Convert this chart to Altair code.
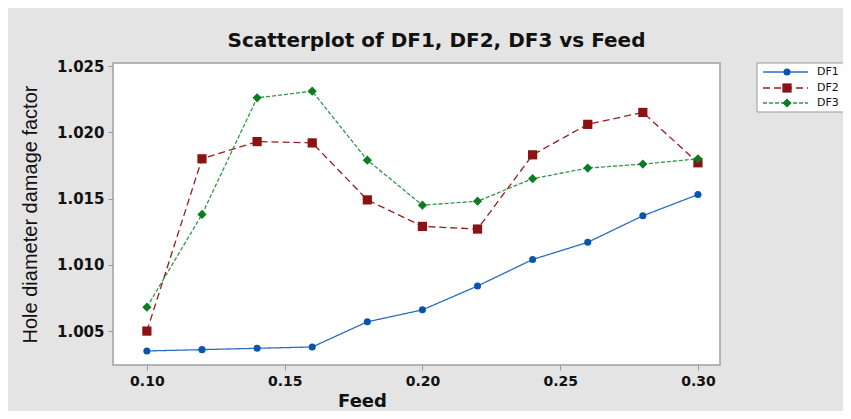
import altair as alt
import pandas as pd

feed = [0.10, 0.12, 0.14, 0.16, 0.18, 0.20, 0.22, 0.24, 0.26, 0.28, 0.30]
df1 = [1.0035, 1.0036, 1.0037, 1.0038, 1.0057, 1.0066, 1.0084, 1.0104, 1.0117, 1.0137, 1.0153]
df2 = [1.0050, 1.0180, 1.0193, 1.0192, 1.0149, 1.0129, 1.0127, 1.0183, 1.0206, 1.0215, 1.0177]
df3 = [1.0068, 1.0138, 1.0226, 1.0231, 1.0179, 1.0145, 1.0148, 1.0165, 1.0173, 1.0176, 1.0180]

series_names = ["DF1", "DF2", "DF3"]
line_colors = ["#2a6fc0", "#9b1c1c", "#2f9a45"]
point_colors = ["#0a55aa", "#8c1212", "#0a7d22"]
dashes = [[1, 0], [7, 4], [4, 2]]
shapes = ["circle", "square", "diamond"]
point_sizes = [50, 85, 85]

x_ticks = [0.10, 0.15, 0.20, 0.25, 0.30]
y_ticks = [1.005, 1.010, 1.015, 1.020, 1.025]

W, H = 607, 302

rows = []
for name, vals in zip(series_names, [df1, df2, df3]):
    for f, v in zip(feed, vals):
        rows.append({"Feed": f, "value": v, "series": name})
data = pd.DataFrame(rows)

x_scale = alt.Scale(domain=[0.0877, 0.308], nice=False, zero=False)
y_scale = alt.Scale(domain=[1.00244, 1.02523], nice=False, zero=False)

label_font = "DejaVu Sans"

x_axis = alt.Axis(values=x_ticks, format=".2f", grid=False, domain=False,
                  tickColor="#999999", tickSize=5, labelFont=label_font,
                  labelFontSize=14, labelFontWeight="bold", labelColor="#111111",
                  labelPadding=4, title="Feed", titleFont=label_font,
                  titleFontSize=18, titleFontWeight="bold", titleColor="#111111",
                  titleX=249, titleY=41, titleBaseline="alphabetic",
                  titleAlign="center")
y_axis = alt.Axis(values=y_ticks, format=".3f", grid=False, domain=False,
                  tickColor="#999999", tickSize=5, labelFont=label_font,
                  labelFontSize=15, labelFontWeight="bold", labelColor="#111111",
                  labelPadding=4, title="Hole diameter damage factor",
                  titleFont="Liberation Sans", titleFontSize=20, titleFontWeight="normal",
                  titleColor="#111111", titleX=-83, titleY=H / 2, titleAngle=-90,
                  titleAlign="center", titleBaseline="middle")

layers = []
for i, name in enumerate(series_names):
    sub = data[data["series"] == name]
    base = alt.Chart(sub)
    enc = dict(
        x=alt.X("Feed:Q", scale=x_scale, axis=x_axis),
        y=alt.Y("value:Q", scale=y_scale, axis=y_axis),
    )
    line = base.mark_line(color=line_colors[i], strokeDash=dashes[i], strokeWidth=1.3).encode(**enc)
    pts = base.mark_point(shape=shapes[i], filled=True, opacity=1, color=point_colors[i],
                          size=point_sizes[i]).encode(**enc)
    layers += [line, pts]

# custom legend (outside plot area)
legend_df = pd.DataFrame({"series": series_names})
leg_box = alt.Chart(legend_df.head(1)).mark_rect(fill="white", stroke="#999999", strokeWidth=1).encode(
    x=alt.value(644), x2=alt.value(733), y=alt.value(0), y2=alt.value(49))
layers.append(leg_box)
row_y = [9, 25, 40]
for i, name in enumerate(series_names):
    one = alt.Chart(legend_df[legend_df["series"] == name])
    layers.append(one.mark_rule(color=line_colors[i], strokeDash=dashes[i], strokeWidth=1.3).encode(
        x=alt.value(650), x2=alt.value(695), y=alt.value(row_y[i])))
    layers.append(one.mark_point(shape=shapes[i], filled=True, opacity=1, color=point_colors[i],
                                 size=point_sizes[i]).encode(x=alt.value(674), y=alt.value(row_y[i])))
    layers.append(one.mark_text(align="left", baseline="middle", font=label_font, fontSize=11,
                                color="#111111").encode(
        x=alt.value(704), y=alt.value(row_y[i]), text="series:N"))

chart = alt.layer(*layers).properties(
    width=W, height=H,
    padding={"left": 105, "top": 55, "right": 123, "bottom": 46},
    autosize=alt.AutoSizeParams(type="none"),
    title=alt.TitleParams("Scatterplot of DF1, DF2, DF3 vs Feed", anchor="middle", dx=20, dy=21,
                          offset=13, baseline="alphabetic", font="DejaVu Sans",
                          fontSize=20, fontWeight="bold", color="#111111"),
).configure(background="#e4e4e4").configure_view(fill="white", stroke="#a0a0a0", strokeWidth=1.5)

chart.save("out.html", embed_options={"renderer": "svg", "actions": False})
